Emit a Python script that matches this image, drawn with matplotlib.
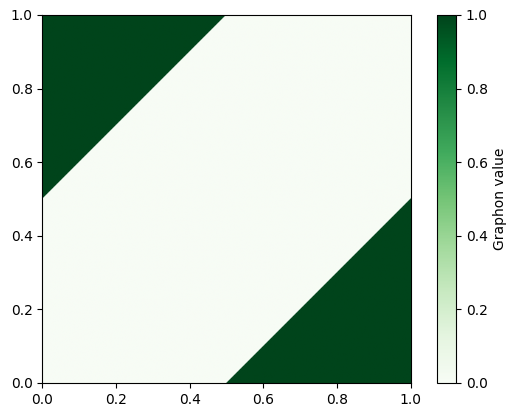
import numpy as np
import matplotlib.pyplot as plt

# graphon W(x, y) = 1 if |x - y| > 0.5 else 0
n_points = 500
threshold = 0.5
high_value = 1.0
low_value = 0.0

u = np.linspace(0, 1, n_points)
X, Y = np.meshgrid(u, u)
W = np.where(np.abs(X - Y) > threshold, high_value, low_value)

fig = plt.figure(figsize=(5.15, 4.18), dpi=100)
ax = fig.add_axes([42 / 515, 35 / 418, 369 / 515, 368 / 418])
cax = fig.add_axes([437 / 515, 35 / 418, 19 / 515, 368 / 418])
im = ax.imshow(W, origin='lower', extent=[0, 1, 0, 1], cmap='Greens', vmin=0, vmax=1)
cbar = fig.colorbar(im, cax=cax)
cbar.set_label('Graphon value')

plt.savefig('out.png', dpi=100)
